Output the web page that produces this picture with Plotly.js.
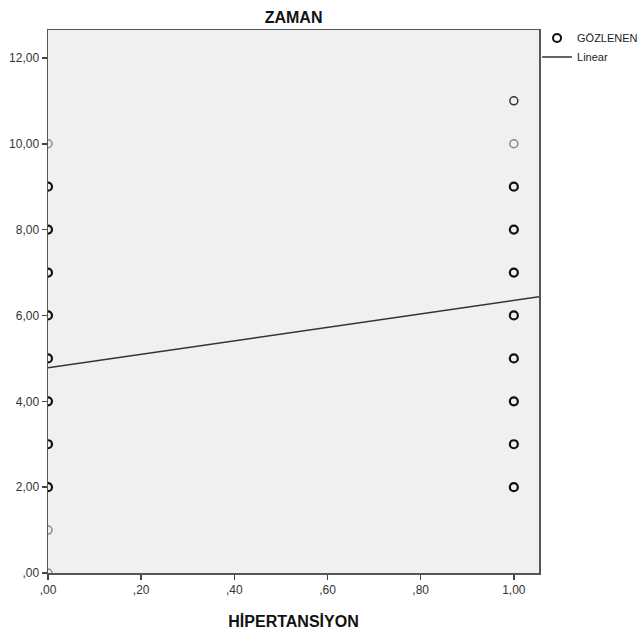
<!DOCTYPE html>
<html>
<head>
<meta charset="utf-8">
<script src="https://cdn.plot.ly/plotly-3.0.1.min.js"></script>
<style>html,body{margin:0;padding:0;background:#fff;}#chart{width:641px;height:635px;}</style>
</head>
<body>
<div id="chart"></div>
<script>
// Observed points: x (HİPERTANSİYON), y (ZAMAN), and how dense each point looks (1 = single, 2+ = overlapping)
const obsX = [1,1,1,1,1,1,1,1,1,1, 0,0,0,0,0,0,0,0,0,0,0];
const obsY = [2,3,4,5,6,7,8,9,10,11, 0,1,2,3,4,5,6,7,8,9,10];
const obsN = [3,3,3,3,3,3,3,3,1,2, 1,1,3,3,3,3,3,3,3,3,1];

// Linear fit
const fitIntercept = 4.78;
const fitSlope = 1.57;
const fitX = [0, 1.054];

const xTickVals = [0, 0.2, 0.4, 0.6, 0.8, 1.0];
const xTickText = [",00", ",20", ",40", ",60", ",80", "1,00"];
const yTickVals = [0, 2, 4, 6, 8, 10, 12];
const yTickText = [",00", "2,00", "4,00", "6,00", "8,00", "10,00", "12,00"];

const fitY = fitX.map(x => fitIntercept + fitSlope * x);
const mColor = obsN.map(n => n >= 3 ? "#111" : (n === 2 ? "#333" : "#888"));
const mWidth = obsN.map(n => n >= 3 ? 2.2 : 1.5);

const font = "Liberation Sans Narrow, Liberation Sans, Arial, sans-serif";

const traces = [
  {
    type: "scatter", mode: "markers", name: "GÖZLENEN",
    x: obsX, y: obsY,
    marker: {symbol: "circle-open", size: 8, color: mColor, line: {width: mWidth, color: mColor}},
    cliponaxis: true
  },
  {
    type: "scatter", mode: "lines", name: "Linear",
    x: fitX, y: fitY,
    line: {color: "#333", width: 1.6}
  }
];

const layout = {
  width: 641, height: 635,
  margin: {l: 48, r: 102, t: 30, b: 62, autoexpand: false},
  paper_bgcolor: "#fff",
  plot_bgcolor: "#f0f0f0",
  font: {family: font, size: 12, color: "#333"},
  title: {text: "<b>ZAMAN</b>", x: 0.458, xanchor: "center", y: 0.972, yanchor: "middle",
          font: {family: "Liberation Sans, Arial, sans-serif", size: 16, color: "#111"}},
  xaxis: {
    range: [0, 1.054], tickvals: xTickVals, ticktext: xTickText,
    showgrid: false, zeroline: false,
    showline: true, linecolor: "#555", linewidth: 1.5, mirror: true,
    ticks: "outside", ticklen: 5, tickcolor: "#444", tickwidth: 1.5,
    tickfont: {family: font, size: 12, color: "#333"},
    title: {text: "<b>HİPERTANSİYON</b>", standoff: 20,
            font: {family: "Liberation Sans, Arial, sans-serif", size: 16, color: "#111"}}
  },
  yaxis: {
    range: [0, 12.65], tickvals: yTickVals, ticktext: yTickText,
    showgrid: false, zeroline: false,
    showline: true, linecolor: "#555", linewidth: 1.5, mirror: true,
    ticks: "outside", ticklen: 5, tickcolor: "#444", tickwidth: 1.5,
    tickfont: {family: font, size: 12, color: "#333"}
  },
  showlegend: true,
  legend: {x: 0.996, xanchor: "left", y: 1.012, yanchor: "top",
           font: {family: font, size: 11, color: "#222"},
           bgcolor: "rgba(0,0,0,0)", itemwidth: 30, tracegroupgap: 0}
};

Plotly.newPlot("chart", traces, layout, {displayModeBar: false, staticPlot: true});
</script>
</body>
</html>
